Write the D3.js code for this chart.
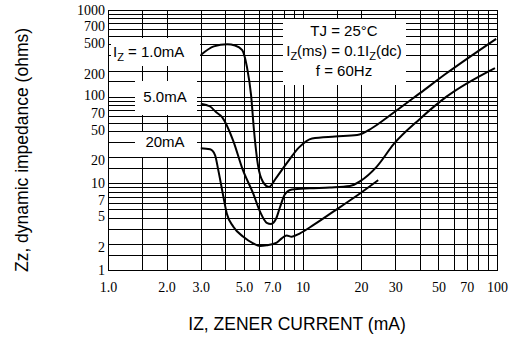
<!DOCTYPE html>
<html>
<head>
<meta charset="utf-8">
<script src="https://cdn.jsdelivr.net/npm/d3@7"></script>
<style>
  body { margin: 0; background: #fff; }
  svg { display: block; }
  .grid line { stroke: #000; stroke-width: 1; shape-rendering: crispEdges; }
  .grid path { display: none; }
  .tick-lbl text { font-family: "Liberation Serif", "Times New Roman", serif; font-size: 14px; fill: #000; }
  .tick-lbl path, .tick-lbl line { display: none; }
  .note { font-family: "Liberation Sans", Arial, sans-serif; font-size: 15px; fill: #000; }
  .title { font-family: "Liberation Sans", Arial, sans-serif; font-size: 17.5px; fill: #000; }
  .curve { fill: none; stroke: #000; stroke-width: 2; }
</style>
</head>
<body>
<svg id="chart" width="520" height="348"></svg>
<script>
// grid lines + tick labels
const xGrid = [1.5, 2, 3, 4, 5, 6, 7, 8, 9, 10, 15, 20, 30, 40, 50, 60, 70, 80, 90];
const yGrid = [1.5, 2, 3, 4, 5, 6, 7, 8, 9, 10, 15, 20, 30, 40, 50, 60, 70, 80, 90,
               100, 150, 200, 300, 400, 500, 600, 700, 800, 900];
const xLabels = [1, 2, 3, 5, 7, 10, 20, 30, 50, 70, 100];
const yLabels = [1, 2, 5, 7, 10, 20, 50, 70, 100, 200, 500, 700, 1000];

// Iz = 1.0mA
const iz1 = [3.0, 3.5, 4.1, 4.5, 4.9, 5.18, 5.44, 5.63, 5.9, 6.26, 6.73, 7.31, 8.32, 9.6, 11.2, 14.7, 19.1, 22.8, 28.2, 40, 55, 99];
const zz1 = [303, 380, 402, 390, 345, 220, 104, 41, 16.3, 10.4, 9.1, 11.5, 17.2, 26, 33, 34.7, 36.1, 43.5, 61, 109, 186, 465];
// Iz = 5.0mA
const iz5 = [3.0, 3.35, 3.59, 3.86, 4.39, 4.94, 5.57, 6.05, 6.55, 6.89, 7.31, 7.66, 8.13, 8.83, 10.9, 13.8, 17.5, 19.8, 24.1, 29.5, 40, 55, 97.6];
const zz5 = [83, 77, 66.5, 58, 31.6, 14.2, 7.7, 4.7, 3.5, 3.4, 3.9, 5.3, 7.5, 8.5, 8.75, 8.95, 9.3, 10.6, 15.6, 28.5, 55, 100, 214];
// Iz = 20mA
const iz20 = [3.0, 3.35, 3.55, 3.69, 3.92, 4.08, 4.41, 4.96, 5.58, 6.05, 6.55, 7.37, 7.82, 8.29, 8.8, 9.71, 11.4, 14.4, 18.2, 24.5];
const zz20 = [25.4, 24.7, 21.2, 14.2, 7.0, 4.5, 3.16, 2.42, 2.03, 1.89, 1.93, 2.07, 2.32, 2.5, 2.42, 2.65, 3.31, 4.71, 6.72, 10.9];

const svg = d3.select('#chart');
const L = 108, R = 497, T = 10, B = 270;

const x = d3.scaleLog().domain([1, 100]).range([L, R]);
const y = d3.scaleLog().domain([1, 1000]).range([B, T]);

// grid
svg.append('g')
  .attr('class', 'grid')
  .attr('transform', `translate(0, ${B})`)
  .call(d3.axisBottom(x).tickValues(xGrid).tickSize(-(B - T)).tickFormat(''));
svg.append('g')
  .attr('class', 'grid')
  .attr('transform', `translate(${L}, 0)`)
  .call(d3.axisLeft(y).tickValues(yGrid).tickSize(-(R - L)).tickFormat(''));

// white label boxes hide grid behind them
const boxes = [[111, 38, 89, 28], [135, 81, 62, 34], [135, 132, 62, 25], [283, 19, 123, 66]];
svg.selectAll('rect.box').data(boxes).join('rect')
  .attr('class', 'box')
  .attr('x', d => d[0]).attr('y', d => d[1])
  .attr('width', d => d[2]).attr('height', d => d[3])
  .attr('fill', '#fff');

// frame
svg.append('rect')
  .attr('x', L + 0.5).attr('y', T + 0.5)
  .attr('width', R - L).attr('height', B - T)
  .attr('fill', 'none').attr('stroke', '#000').attr('stroke-width', 1);

// tick labels
svg.append('g')
  .attr('class', 'tick-lbl')
  .attr('transform', `translate(0, ${B})`)
  .call(d3.axisBottom(x).tickValues(xLabels).tickSize(0).tickPadding(12)
    .tickFormat(d => d < 10 ? d.toFixed(1) : String(d)));
const yl = svg.append('g')
  .attr('class', 'tick-lbl')
  .attr('transform', `translate(${L}, 0)`)
  .call(d3.axisLeft(y).tickValues(yLabels).tickSize(0).tickPadding(3)
    .tickFormat(d => String(d)));

// the datasheet puts its 2/5/7 labels a little below their grid lines
yl.selectAll('.tick text').attr('transform', d => {
  const m = Math.round(d / Math.pow(10, Math.floor(Math.log10(d) + 1e-9)));
  const shift = m === 5 ? 7 : m === 7 ? 3 : m === 2 ? 3 : (d === 100 ? -2 : 0);
  return `translate(0, ${shift})`;
});

// curves
const line = d3.line()
  .x(d => x(d[0]))
  .y(d => y(d[1]))
  .curve(d3.curveMonotoneX);

[[iz1, zz1], [iz5, zz5], [iz20, zz20]].forEach(([xs, ys]) => {
  svg.append('path')
    .attr('class', 'curve')
    .attr('d', line(xs.map((v, i) => [v, ys[i]])));
});

// curve labels
const t1 = svg.append('text').attr('class', 'note').attr('x', 113).attr('y', 57);
t1.append('tspan').text('I');
t1.append('tspan').attr('font-size', 11).attr('dy', 4).text('Z');
t1.append('tspan').attr('dy', -4).text(' = 1.0mA');

svg.append('text').attr('class', 'note').attr('x', 165).attr('y', 102)
  .attr('text-anchor', 'middle').text('5.0mA');
svg.append('text').attr('class', 'note').attr('x', 165).attr('y', 147)
  .attr('text-anchor', 'middle').text('20mA');

// conditions
svg.append('text').attr('class', 'note').attr('x', 344).attr('y', 36)
  .attr('text-anchor', 'middle').text('TJ = 25°C');
const t2 = svg.append('text').attr('class', 'note').attr('x', 344).attr('y', 56)
  .attr('text-anchor', 'middle');
t2.append('tspan').text('I');
t2.append('tspan').attr('font-size', 11).attr('dy', 4).text('Z');
t2.append('tspan').attr('dy', -4).text('(ms) = 0.1I');
t2.append('tspan').attr('font-size', 11).attr('dy', 4).text('Z');
t2.append('tspan').attr('dy', -4).text('(dc)');
svg.append('text').attr('class', 'note').attr('x', 344).attr('y', 76)
  .attr('text-anchor', 'middle').text('f = 60Hz');

// axis titles
svg.append('text').attr('class', 'title')
  .attr('x', 297).attr('y', 330)
  .attr('text-anchor', 'middle')
  .text('IZ, ZENER CURRENT (mA)');
svg.append('text').attr('class', 'title')
  .attr('transform', 'translate(28, 150) rotate(-90)')
  .attr('text-anchor', 'middle')
  .text('Zz, dynamic impedance (ohms)');
</script>
</body>
</html>
